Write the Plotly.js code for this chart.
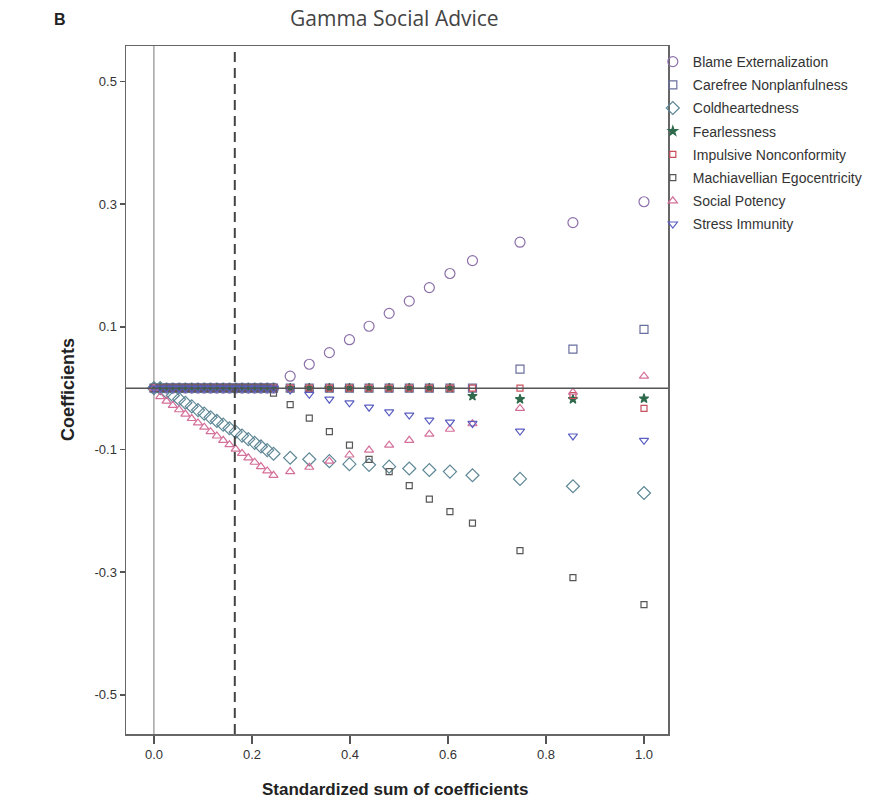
<!DOCTYPE html>
<html>
<head>
<meta charset="utf-8">
<script src="https://cdn.plot.ly/plotly-3.0.1.min.js"></script>
<style>
  html, body { margin: 0; padding: 0; background: #ffffff; }
  #chart { width: 870px; height: 811px; }
</style>
</head>
<body>
<div id="chart"></div>
<script>
// Lasso coefficient paths: standardized L1 sum of coefficients (x) vs. coefficient value
const seriesNames = [
  "Blame Externalization",
  "Carefree Nonplanfulness",
  "Coldheartedness",
  "Fearlessness",
  "Impulsive Nonconformity",
  "Machiavellian Egocentricity",
  "Social Potency",
  "Stress Immunity"
];

const stepX = [
  0, 0.0128, 0.0257, 0.0385, 0.0514, 0.0642, 0.0771, 0.0899, 0.1027, 0.1156,
  0.1284, 0.1413, 0.1541, 0.1669, 0.1798, 0.1926, 0.2055, 0.2183, 0.2312, 0.244,
  0.278, 0.317, 0.358, 0.399, 0.439, 0.480, 0.521, 0.562, 0.604, 0.650,
  0.747, 0.855, 1.000
];

const blameExternalization = [
  0, 0, 0, 0, 0, 0, 0, 0, 0, 0, 0, 0, 0, 0, 0, 0, 0, 0, 0, 0,
  0.0195, 0.039, 0.058, 0.079, 0.101, 0.122, 0.142, 0.164, 0.187, 0.208,
  0.238, 0.270, 0.304
];

const carefreeNonplanfulness = [
  0, 0, 0, 0, 0, 0, 0, 0, 0, 0, 0, 0, 0, 0, 0, 0, 0, 0, 0, 0,
  0, 0, 0, 0, 0, 0, 0, 0, 0, 0,
  0.031, 0.0635, 0.096
];

const coldheartedness = [
  0, 0, -0.006, -0.0119, -0.0179, -0.0238, -0.0298, -0.0357, -0.0416, -0.0476,
  -0.0535, -0.0595, -0.0654, -0.0714, -0.0773, -0.0832, -0.0892, -0.0951, -0.1011, -0.107,
  -0.1135, -0.116, -0.119, -0.124, -0.125, -0.128, -0.131, -0.1335, -0.136, -0.142,
  -0.148, -0.160, -0.171
];

const fearlessness = [
  0, 0, 0, 0, 0, 0, 0, 0, 0, 0, 0, 0, 0, 0, 0, 0, 0, 0, 0, 0,
  0, 0, 0, 0, 0, 0, 0, 0, 0, -0.013,
  -0.018, -0.018, -0.017
];

const impulsiveNonconformity = [
  0, 0, 0, 0, 0, 0, 0, 0, 0, 0, 0, 0, 0, 0, 0, 0, 0, 0, 0, 0,
  0, 0, 0, 0, 0, 0, 0, 0, 0, 0,
  0, -0.012, -0.033
];

const machiavellianEgocentricity = [
  0, 0, 0, 0, 0, 0, 0, 0, 0, 0, 0, 0, 0, 0, 0, 0, 0, 0, 0, -0.008,
  -0.027, -0.049, -0.071, -0.093, -0.116, -0.136, -0.159, -0.181, -0.2015, -0.220,
  -0.265, -0.309, -0.353
];

const socialPotency = [
  0, -0.0138, -0.021, -0.0281, -0.0352, -0.0423, -0.0495, -0.0566, -0.0637, -0.0709,
  -0.078, -0.0851, -0.0922, -0.0993, -0.1065, -0.1136, -0.1208, -0.1279, -0.135, -0.1421,
  -0.136, -0.129, -0.119, -0.109, -0.101, -0.093, -0.085, -0.075, -0.067, -0.058,
  -0.033, -0.0065, 0.0195
];

const stressImmunity = [
  0, 0, 0, 0, 0, 0, 0, 0, 0, 0, 0, 0, 0, 0, 0, 0, 0, 0, 0, 0,
  -0.003, -0.010, -0.018, -0.024, -0.031, -0.0386, -0.044, -0.052, -0.0555, -0.0575,
  -0.070, -0.078, -0.085
];

const xTickVals = [0, 0.2, 0.4, 0.6, 0.8, 1.0];
const xTickText = ["0.0", "0.2", "0.4", "0.6", "0.8", "1.0"];
const yTickVals = [0.5, 0.3, 0.1, -0.1, -0.3, -0.5];
const yTickText = ["0.5", "0.3", "0.1", "-0.1", "-0.3", "-0.5"];

const selectedStep = 0.165;

const seriesValues = [
  blameExternalization, carefreeNonplanfulness, coldheartedness, fearlessness,
  impulsiveNonconformity, machiavellianEgocentricity, socialPotency, stressImmunity
];

const markerStyles = [
  { symbol: "circle-open",        color: "#8c70aa", size: 10 },
  { symbol: "square-open",        color: "#6a6e9e", size: 8 },
  { symbol: "diamond-open",       color: "#5e8796", size: 10 },
  { symbol: "star",               color: "#2f6a4c", size: 7 },
  { symbol: "square-open",        color: "#c8505e", size: 6 },
  { symbol: "square-open",        color: "#575757", size: 6 },
  { symbol: "triangle-up-open",   color: "#d4709a", size: 8 },
  { symbol: "triangle-down-open", color: "#5a5ec2", size: 8 }
];

const traces = seriesNames.map((name, i) => ({
  type: "scatter",
  mode: "markers",
  name: name,
  legendgroup: "g" + i,
  x: stepX,
  y: seriesValues[i],
  marker: {
    symbol: markerStyles[i].symbol,
    size: markerStyles[i].size,
    color: markerStyles[i].color,
    line: { color: markerStyles[i].color, width: 1.2 }
  }
}));

const layout = {
  width: 870,
  height: 811,
  paper_bgcolor: "#ffffff",
  plot_bgcolor: "#ffffff",
  margin: { l: 126, r: 202, t: 46, b: 77, autoexpand: false },
  font: { family: "Liberation Sans, Arial, sans-serif", color: "#333333", size: 12 },
  showlegend: true,
  legend: {
    x: 0.972, xanchor: "left",
    y: 1.0, yanchor: "top",
    bgcolor: "rgba(0,0,0,0)",
    borderwidth: 0,
    font: { family: "Liberation Sans, Arial, sans-serif", size: 14, color: "#333333" },
    itemwidth: 30,
    tracegroupgap: 2
  },
  xaxis: {
    range: [-0.057, 1.049],
    tickvals: xTickVals,
    ticktext: xTickText,
    ticks: "outside",
    ticklen: 8,
    tickwidth: 1.5,
    tickcolor: "#555555",
    showline: true,
    linecolor: "#666666",
    linewidth: 1.5,
    mirror: true,
    showgrid: false,
    zeroline: false,
    tickfont: { size: 13, color: "#333333" }
  },
  yaxis: {
    range: [-0.564, 0.558],
    tickvals: yTickVals,
    ticktext: yTickText,
    ticks: "outside",
    ticklen: 5,
    tickwidth: 1.5,
    tickcolor: "#555555",
    showline: true,
    linecolor: "#666666",
    linewidth: 1.5,
    mirror: true,
    showgrid: false,
    zeroline: false,
    tickfont: { size: 13, color: "#333333" }
  },
  shapes: [
    { type: "line", xref: "x", yref: "paper", x0: 0, x1: 0, y0: 0, y1: 1,
      line: { color: "#777777", width: 1 }, layer: "below" },
    { type: "line", xref: "paper", yref: "y", x0: 0, x1: 1, y0: 0, y1: 0,
      line: { color: "#555555", width: 1.5 }, layer: "above" },
    { type: "line", xref: "x", yref: "paper", x0: selectedStep, x1: selectedStep, y0: 0, y1: 1,
      line: { color: "#444444", width: 2, dash: "10px,6px" }, layer: "above" }
  ],
  annotations: [
    { text: "Gamma Social Advice", xref: "paper", yref: "paper", x: 0.496, y: 1.0,
      xanchor: "center", yanchor: "bottom", yshift: 12, showarrow: false,
      font: { family: "Open Sans, Noto Sans, sans-serif", size: 21, color: "#444444" } },
    { text: "<b>B</b>", xref: "paper", yref: "paper", x: -0.13, y: 1.0,
      xanchor: "left", yanchor: "bottom", xshift: -4, yshift: 16, showarrow: false,
      font: { family: "Liberation Sans, Arial, sans-serif", size: 16, color: "#222222" } },
    { text: "<b>Coefficients</b>", xref: "paper", yref: "paper", x: 0, y: 0.5,
      xanchor: "center", yanchor: "middle", xshift: -58, showarrow: false, textangle: -90,
      font: { family: "Liberation Sans, Arial, sans-serif", size: 18, color: "#222222" } },
    { text: "<b>Standardized sum of coefficients</b>", xref: "paper", yref: "paper", x: 0.496, y: 0,
      xanchor: "center", yanchor: "top", yshift: -44, showarrow: false,
      font: { family: "Liberation Sans, Arial, sans-serif", size: 17, color: "#222222" } }
  ]
};

Plotly.newPlot("chart", traces, layout, { displayModeBar: false, staticPlot: true });
</script>
</body>
</html>
